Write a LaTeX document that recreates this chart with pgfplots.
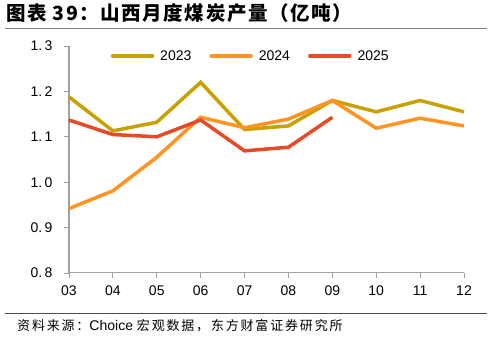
\documentclass[border=0pt]{standalone}
\usepackage{pgfplots}
\pgfplotsset{compat=1.18}
\usepackage{fontspec}
\setmainfont{Liberation Sans}
\newfontfamily\cjk{Noto Sans CJK SC}
\newfontfamily\cjkls{Noto Sans CJK SC}[LetterSpace=14]
\newfontfamily\cjkt{Noto Sans CJK SC}[LetterSpace=8]
\definecolor{c23}{RGB}{200,160,0}
\definecolor{c24}{RGB}{255,148,34}
\definecolor{c25}{RGB}{232,74,39}
\definecolor{axgray}{RGB}{160,160,160}
\begin{document}
\begin{tikzpicture}[x=1pt,y=1pt]
\useasboundingbox (-69,-64) rectangle (423,273);
\begin{axis}[
  at={(0,0)}, anchor=origin,
  scale only axis, width=395pt, height=227pt,
  xmin=0, xmax=9, ymin=0.8, ymax=1.3,
  axis x line=bottom, axis y line=left,
  axis line style={axgray, line width=1pt, -},
  y axis line style={line width=1.5pt},
  xtick={0,...,9},
  xticklabels={03,04,05,06,07,08,09,10,11,12},
  ytick={0.8,0.9,1.0,1.1,1.2,1.3},
  yticklabels={0.\,8,0.\,9,1.\,0,1.\,1,1.\,2,1.\,3},
  tick style={axgray, line width=0.8pt},
  tick align=outside, major tick length=5pt,
  ticklabel style={font=\fontsize{14}{14}\selectfont, text=black},
  yticklabel style={xshift=-8pt},
  xticklabel style={yshift=-4pt},
  legend columns=3,
  legend style={draw=none, fill=none, at={(0.46,0.956)}, anchor=center,
    font=\fontsize{14}{14}\selectfont, column sep=4pt,
    /tikz/every even column/.append style={column sep=16pt}},
  legend image code/.code={\draw[#1, line width=3.5pt, line cap=round] (0pt,0pt) -- (40pt,0pt);},
  clip=false,
]
\addplot[c23, line width=3.5pt] coordinates {(0,1.188) (1,1.113) (2,1.132) (3,1.220) (4,1.116) (5,1.124) (6,1.180) (7,1.155) (8,1.180) (9,1.155)};
\addlegendentry{2023}
\addplot[c24, line width=3.5pt] coordinates {(0,0.942) (1,0.981) (2,1.055) (3,1.143) (4,1.120) (5,1.139) (6,1.180) (7,1.119) (8,1.141) (9,1.124)};
\addlegendentry{2024}
\addplot[c25, line width=3.5pt] coordinates {(0,1.137) (1,1.105) (2,1.100) (3,1.137) (4,1.069) (5,1.077) (6,1.143)};
\addlegendentry{2025}
\end{axis}
% title
\node[anchor=west, inner sep=0pt] at (-63,260) {\fontsize{19.5}{19.5}\selectfont\cjkt\bfseries 图表 39：山西月度煤炭产量（亿吨）};
\draw[gray, line width=1pt] (-64,244) -- (418,244);
% footer
\draw[black!70, line width=1pt] (-64,-40) -- (418,-40);
\node[anchor=west, inner sep=0pt] at (-52,-53) {\fontsize{13}{13}\selectfont{\cjkls 资料来源：}{\fontsize{14}{14}\selectfont Choice }{\cjkls 宏观数据，东方财富证券研究所}};
\end{tikzpicture}
\end{document}
